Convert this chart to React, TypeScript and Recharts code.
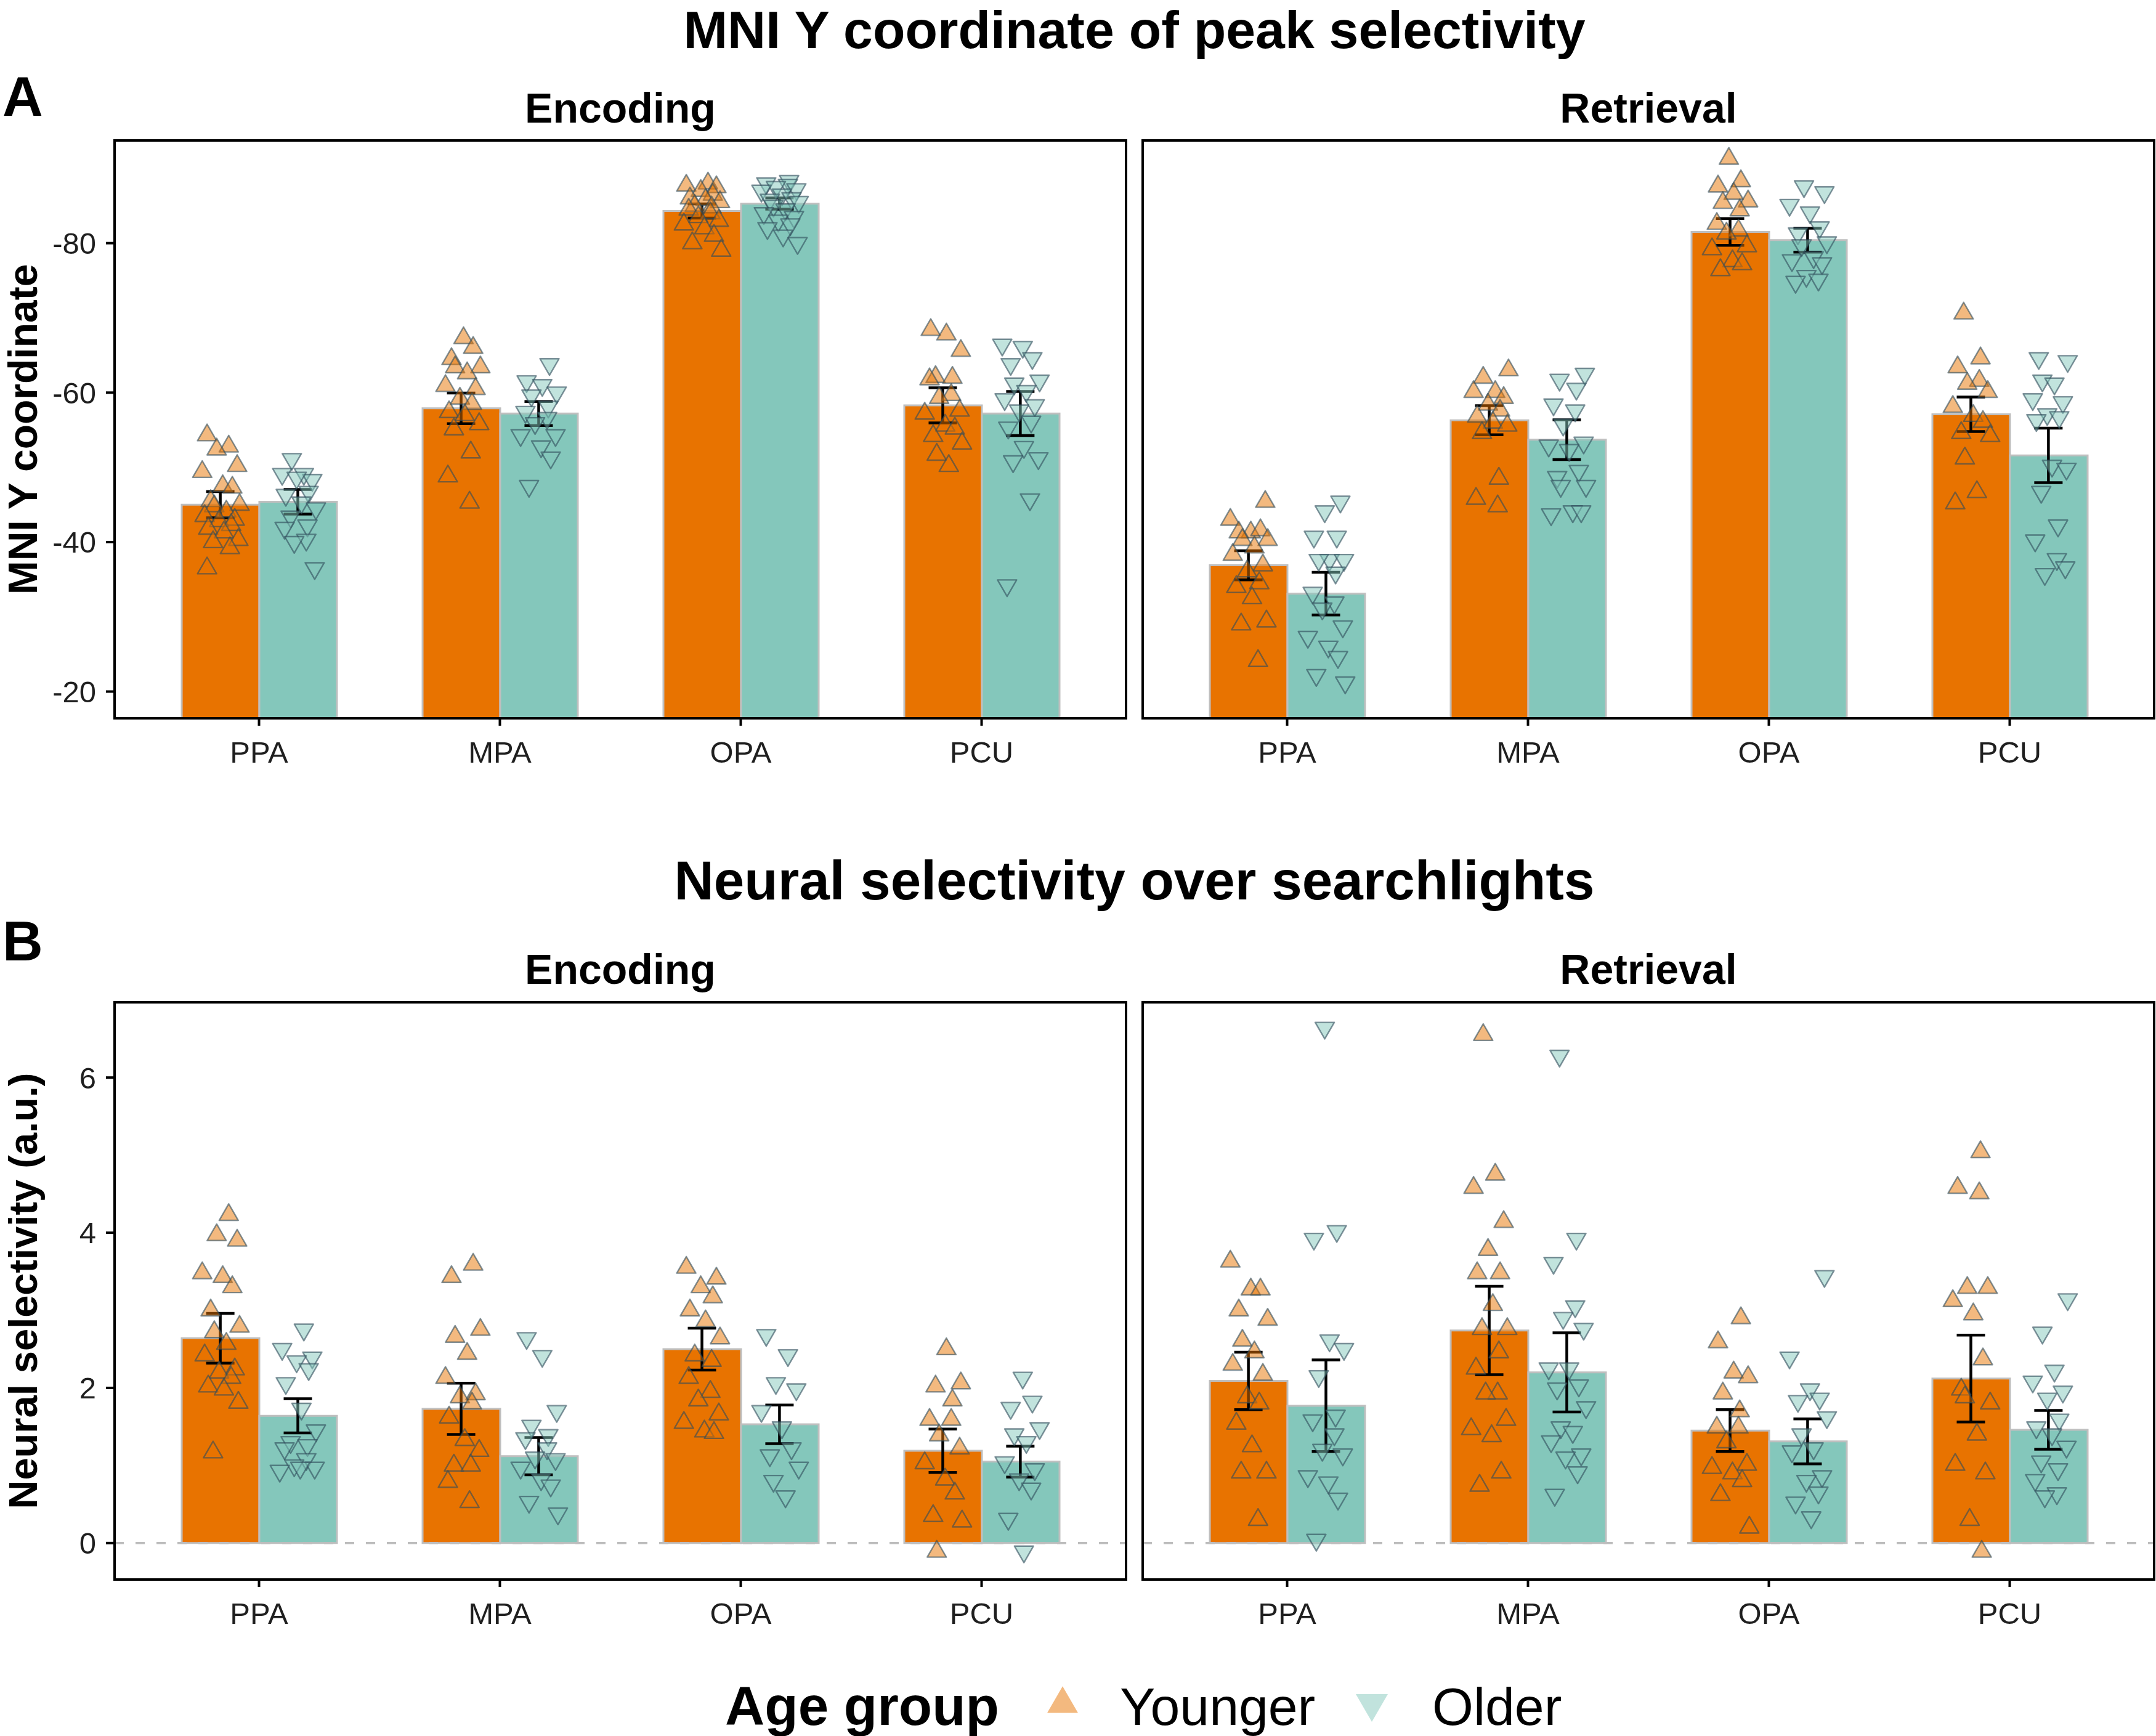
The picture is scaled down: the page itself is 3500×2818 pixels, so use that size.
import React from 'react';
import { ComposedChart, Bar, Scatter, XAxis, YAxis, ErrorBar, ReferenceLine } from 'recharts';

const FONT = '"Liberation Sans", Arial, Helvetica, sans-serif';

// ---------- data ----------
const REGIONS = ['PPA', 'MPA', 'OPA', 'PCU'];
const PHASES = ['Encoding', 'Retrieval'];
const GROUPS = ['Younger', 'Older'];

const MNI_TICKS = [-80, -60, -40, -20];
const SEL_TICKS = [0, 2, 4, 6];

// Panel A: MNI Y coordinate of peak selectivity (means and SE)
const MNI_ENC_YOUNG_MEAN = [-45.0, -57.9, -84.3, -58.3];
const MNI_ENC_YOUNG_SE = [1.75, 2.05, 0.95, 2.35];
const MNI_ENC_OLD_MEAN = [-45.4, -57.2, -85.3, -57.2];
const MNI_ENC_OLD_SE = [1.65, 1.6, 0.75, 2.95];
const MNI_RET_YOUNG_MEAN = [-36.9, -56.3, -81.5, -57.1];
const MNI_RET_YOUNG_SE = [1.95, 1.95, 1.8, 2.3];
const MNI_RET_OLD_MEAN = [-33.1, -53.7, -80.4, -51.6];
const MNI_RET_OLD_SE = [2.85, 2.65, 1.6, 3.65];

// Panel B: neural selectivity (means and SE)
const SEL_ENC_YOUNG_MEAN = [2.64, 1.73, 2.5, 1.19];
const SEL_ENC_YOUNG_SE = [0.32, 0.33, 0.27, 0.28];
const SEL_ENC_OLD_MEAN = [1.64, 1.12, 1.53, 1.05];
const SEL_ENC_OLD_SE = [0.22, 0.24, 0.25, 0.2];
const SEL_RET_YOUNG_MEAN = [2.09, 2.74, 1.45, 2.12];
const SEL_RET_YOUNG_SE = [0.37, 0.57, 0.27, 0.56];
const SEL_RET_OLD_MEAN = [1.77, 2.2, 1.31, 1.46];
const SEL_RET_OLD_SE = [0.59, 0.51, 0.29, 0.25];

// individual participants (per region: PPA, MPA, OPA, PCU)
const MNI_ENC_YOUNG_PTS = [
  [-54.3, -52.8, -52.4, -50.2, -49.4, -47.5, -47.3, -45.5, -45.0, -44.8, -44.1, -43.5, -43.0, -42.8, -42.3, -41.8, -41.3, -40.3, -40.0, -39.2, -36.5],
  [-67.3, -66.0, -64.5, -63.4, -63.4, -62.6, -60.9, -60.5, -59.2, -58.5, -57.4, -57.0, -55.8, -55.1, -52.0, -48.8, -45.3],
  [-88.0, -87.7, -87.5, -87.0, -86.5, -86.0, -85.8, -85.5, -85.0, -84.8, -84.5, -84.0, -83.5, -83.0, -82.5, -82.0, -81.0, -80.0, -79.0],
  [-68.4, -67.8, -65.6, -62.1, -62.0, -61.8, -59.7, -59.3, -57.6, -57.2, -55.6, -55.2, -54.2, -53.2, -51.7, -50.2],
];
const MNI_ENC_OLD_PTS = [
  [-51.1, -49.1, -49.1, -48.3, -48.6, -46.7, -46.3, -45.3, -44.5, -43.4, -42.2, -41.9, -40.3, -40.0, -36.5],
  [-63.8, -61.5, -61.0, -60.0, -59.6, -58.1, -57.4, -56.6, -55.9, -54.3, -54.3, -52.8, -51.3, -47.5],
  [-88.3, -88.0, -87.8, -87.5, -87.2, -87.0, -86.5, -86.0, -85.8, -85.5, -85.0, -84.5, -84.0, -83.5, -83.0, -82.5, -82.0, -81.0, -80.0],
  [-66.4, -66.1, -64.6, -63.8, -61.6, -61.2, -60.2, -59.1, -58.3, -57.6, -56.1, -55.3, -52.7, -51.2, -50.8, -45.7, -34.2],
];
const MNI_RET_YOUNG_PTS = [
  [-45.4, -43.0, -41.3, -41.6, -41.3, -40.3, -40.3, -39.3, -38.3, -36.9, -36.1, -34.5, -34.0, -32.5, -29.4, -29.0, -24.1],
  [-63.0, -62.0, -60.1, -60.1, -59.3, -58.4, -57.6, -56.8, -56.0, -55.6, -54.6, -48.5, -45.8, -44.8],
  [-91.3, -88.3, -87.6, -86.6, -85.6, -85.4, -84.4, -82.6, -81.7, -81.3, -79.6, -79.2, -77.6, -77.2, -76.4],
  [-70.6, -64.6, -63.4, -61.6, -61.2, -60.1, -58.1, -56.9, -56.1, -54.6, -54.2, -51.2, -46.7, -45.2],
];
const MNI_RET_OLD_PTS = [
  [-45.4, -44.1, -40.7, -40.7, -37.6, -37.6, -37.6, -35.9, -33.2, -31.9, -31.1, -28.7, -27.3, -26.0, -24.6, -22.2, -21.2],
  [-62.5, -61.7, -60.5, -58.4, -57.6, -55.7, -53.3, -52.9, -52.3, -49.5, -48.7, -47.5, -47.5, -44.1, -43.7, -44.1],
  [-87.6, -86.8, -85.1, -84.1, -82.1, -81.3, -80.1, -79.7, -78.1, -77.7, -77.3, -75.6, -75.1, -74.8],
  [-64.6, -64.2, -61.6, -61.2, -59.1, -58.7, -57.1, -56.7, -56.3, -50.2, -49.8, -46.7, -42.2, -40.2, -37.7, -35.7, -36.6],
];
const SEL_ENC_YOUNG_PTS = [
  [4.23, 3.97, 3.9, 3.48, 3.43, 3.3, 3.0, 2.79, 2.72, 2.57, 2.42, 2.24, 2.2, 2.13, 2.02, 1.98, 1.81, 1.17],
  [3.59, 3.43, 2.75, 2.66, 2.44, 2.13, 1.92, 1.88, 1.8, 1.62, 1.33, 1.19, 1.0, 1.0, 0.79, 0.53],
  [3.55, 3.41, 3.3, 3.17, 3.0, 2.86, 2.64, 2.42, 2.35, 2.13, 1.95, 1.84, 1.66, 1.55, 1.44, 1.42],
  [2.5, 2.06, 2.02, 1.84, 1.59, 1.59, 1.39, 1.22, 1.03, 0.82, 0.64, 0.35, 0.28, -0.11],
];
const SEL_ENC_OLD_PTS = [
  [2.75, 2.5, 2.39, 2.34, 2.24, 2.06, 1.73, 1.45, 1.3, 1.26, 1.22, 1.08, 1.0, 0.97, 0.93, 0.97],
  [2.64, 2.41, 1.7, 1.51, 1.39, 1.35, 1.22, 1.1, 1.08, 0.97, 0.82, 0.74, 0.53, 0.38],
  [2.68, 2.42, 2.06, 1.98, 1.7, 1.49, 1.22, 1.13, 0.97, 0.8, 0.6],
  [2.13, 1.82, 1.74, 1.48, 1.4, 1.3, 1.04, 0.95, 0.82, 0.7, 0.31, -0.11],
];
const SEL_RET_YOUNG_PTS = [
  [3.63, 3.27, 3.27, 3.0, 2.88, 2.61, 2.46, 2.3, 2.17, 1.88, 1.8, 1.54, 1.25, 0.91, 0.91, 0.3],
  [6.55, 4.75, 4.58, 4.14, 3.78, 3.48, 3.48, 3.07, 2.76, 2.76, 2.46, 2.25, 1.93, 1.93, 1.59, 1.47, 1.38, 0.91, 0.74],
  [2.9, 2.59, 2.2, 2.14, 1.93, 1.7, 1.49, 1.49, 1.3, 1.01, 0.97, 0.9, 0.8, 0.62, 0.2],
  [5.04, 4.58, 4.51, 3.29, 3.29, 3.12, 2.95, 2.37, 1.98, 1.8, 1.88, 1.4, 1.01, 0.9, 0.3, -0.11],
];
const SEL_RET_OLD_PTS = [
  [6.64, 4.02, 3.92, 2.61, 2.5, 2.15, 1.64, 1.58, 1.4, 1.2, 1.14, 0.86, 0.78, 0.57, 0.04],
  [6.28, 3.92, 3.61, 3.05, 2.9, 2.76, 2.25, 2.25, 2.03, 1.99, 1.75, 1.49, 1.43, 1.31, 1.14, 1.1, 0.91, 0.62],
  [3.44, 2.39, 1.98, 1.86, 1.83, 1.62, 1.4, 1.22, 1.18, 0.86, 0.8, 0.65, 0.52, 0.33],
  [3.14, 2.71, 2.22, 2.08, 1.95, 1.86, 1.59, 1.49, 1.4, 1.24, 1.05, 0.95, 0.81, 0.64, 0.6],
];

// ---------- style / layout ----------
const ORANGE = '#E87300';
const TEAL = '#84C7BB';
const BAR_EDGE = '#BFBFBF';
const PT_EDGE = '#2E4B5A';
const TEXT = '#1F1F1F';

const PANEL_W = 1642;
const COL_X = [186, 1855];
const ROW_Y = [228, 1627];
const PANEL_H = [938, 937];
const MNI_DOMAIN: [number, number] = [-93.74, -16.42];
const SEL_DOMAIN: [number, number] = [-0.47, 6.97];
const BAR_SIZE = 126;
const DODGE = 0.161; // half of dodged bar width, in category units
const JITTER = [-0.055, 0.035, -0.015, 0.07, -0.075, 0.01, 0.05, -0.04, 0.08, -0.025, 0.025, -0.065, 0.06, -0.005, 0.045, -0.05, 0.015, 0.075, -0.03, 0.04];
const X_AXIS_H = 110;
const TOP_M = 10;
const BORDER = 4;

function makePoints(pts: number[][], side: number, seed: number) {
  const out: { x: number; y: number }[] = [];
  pts.forEach((arr, i) =>
    arr.forEach((v, j) => {
      out.push({ x: i + 1 + side * DODGE + JITTER[(j + 5 * i + seed) % JITTER.length], y: v });
    })
  );
  return out;
}

function makeErr(mean: number[], se: number[], side: number) {
  return mean.map((m, i) => ({ x: i + 1 + side * DODGE, y: m, err: se[i] }));
}

function triPath(cx: number, cy: number, s: number, up: boolean) {
  const h = (s * Math.sqrt(3)) / 2;
  return up
    ? `M${cx},${cy - (2 * h) / 3} L${cx + s / 2},${cy + h / 3} L${cx - s / 2},${cy + h / 3} Z`
    : `M${cx},${cy + (2 * h) / 3} L${cx + s / 2},${cy - h / 3} L${cx - s / 2},${cy - h / 3} Z`;
}

const makeTri = (up: boolean, fill: string) => (props: any) => {
  const { cx, cy } = props;
  if (cx == null || cy == null || isNaN(cx) || isNaN(cy)) return <g />;
  return (
    <path
      d={triPath(cx, cy, 31, up)}
      fill={fill}
      fillOpacity={0.5}
      stroke={PT_EDGE}
      strokeOpacity={0.6}
      strokeWidth={2.4}
      strokeLinejoin="round"
    />
  );
};
const UpTri = makeTri(true, ORANGE);
const DownTri = makeTri(false, TEAL);
const NoShape = () => <g />;

type PanelProps = {
  col: number;
  row: number;
  youngMean: number[];
  youngSe: number[];
  oldMean: number[];
  oldSe: number[];
  youngPts: number[][];
  oldPts: number[][];
  domain: [number, number];
  ticks: number[];
  reversed: boolean;
  zeroLine: boolean;
};

function Panel(p: PanelProps) {
  const rows = REGIONS.map((r, i) => ({ region: r, young: p.youngMean[i], old: p.oldMean[i] }));
  const yPts = makePoints(p.youngPts, -1, p.col * 3 + p.row);
  const oPts = makePoints(p.oldPts, 1, p.col * 3 + p.row + 9);
  const yErr = makeErr(p.youngMean, p.youngSe, -1);
  const oErr = makeErr(p.oldMean, p.oldSe, 1);
  const isLeft = p.col === 0;
  const yAxisW = isLeft ? 186 : 0;
  const marginLeft = isLeft ? 0 : 10;
  const marginRight = isLeft ? 10 : 3;
  const width = marginLeft + yAxisW + PANEL_W + marginRight;
  const height = TOP_M + PANEL_H[p.row] + X_AXIS_H;
  const left = COL_X[p.col] - yAxisW - marginLeft;
  const top = ROW_Y[p.row] - TOP_M;
  const line = { stroke: '#000', strokeWidth: BORDER };
  return (
    <>
      <div style={{ position: 'absolute', left, top, width, height }}>
        <ComposedChart
          width={width}
          height={height}
          data={rows}
          margin={{ top: TOP_M, right: marginRight, bottom: 0, left: marginLeft }}
          barGap={0}
          style={{ fontFamily: FONT }}
        >
          {p.zeroLine && (
            <ReferenceLine
              xAxisId="cat"
              yAxisId="v"
              y={0}
              stroke="#BDBDBD"
              strokeWidth={3.5}
              strokeDasharray="15 19"
            />
          )}
          <Bar xAxisId="cat" yAxisId="v" dataKey="young" name={GROUPS[0]} fill={ORANGE} stroke={BAR_EDGE} strokeWidth={3} barSize={BAR_SIZE} isAnimationActive={false} />
          <Bar xAxisId="cat" yAxisId="v" dataKey="old" name={GROUPS[1]} fill={TEAL} stroke={BAR_EDGE} strokeWidth={3} barSize={BAR_SIZE} isAnimationActive={false} />
          <Scatter xAxisId="num" yAxisId="v" data={yPts} dataKey="y" shape={UpTri} isAnimationActive={false} />
          <Scatter xAxisId="num" yAxisId="v" data={oPts} dataKey="y" shape={DownTri} isAnimationActive={false} />
          <Scatter xAxisId="num" yAxisId="v" data={yErr} dataKey="y" shape={NoShape} isAnimationActive={false}>
            <ErrorBar dataKey="err" direction="y" width={23} stroke="#000" strokeWidth={4.5} />
          </Scatter>
          <Scatter xAxisId="num" yAxisId="v" data={oErr} dataKey="y" shape={NoShape} isAnimationActive={false}>
            <ErrorBar dataKey="err" direction="y" width={23} stroke="#000" strokeWidth={4.5} />
          </Scatter>
          <XAxis
            xAxisId="cat"
            dataKey="region"
            type="category"
            padding={{ left: 39, right: 39 }}
            height={X_AXIS_H}
            interval={0}
            tickSize={12}
            tickMargin={25}
            tick={{ fontSize: 49, fill: TEXT, fontFamily: FONT }}
            axisLine={line}
            tickLine={line}
          />
          <XAxis xAxisId="num" dataKey="x" type="number" domain={[0.4, 4.6]} allowDataOverflow hide />
          <YAxis
            yAxisId="v"
            type="number"
            domain={p.domain}
            allowDataOverflow
            reversed={p.reversed}
            ticks={p.ticks}
            interval={0}
            width={yAxisW}
            tick={isLeft ? { fontSize: 49, fill: TEXT, fontFamily: FONT } : false}
            tickSize={14}
            tickMargin={16}
            tickLine={isLeft ? line : false}
            axisLine={line}
          />
        </ComposedChart>
      </div>
      {/* panel border (theme element, like ggplot's panel.border) */}
      <div
        style={{
          position: 'absolute',
          left: COL_X[p.col] - BORDER / 2,
          top: ROW_Y[p.row] - BORDER / 2,
          width: PANEL_W + BORDER,
          height: PANEL_H[p.row] + BORDER,
          border: `${BORDER}px solid #000`,
          boxSizing: 'border-box',
          pointerEvents: 'none',
        }}
      />
    </>
  );
}

function Overlay() {
  const bold = { fontFamily: FONT, fontWeight: 700, fill: '#000' } as const;
  const plain = { fontFamily: FONT, fontWeight: 400, fill: '#000' } as const;
  const c0 = COL_X[0] + PANEL_W / 2;
  const c1 = COL_X[1] + PANEL_W / 2;
  const mid = (COL_X[0] + COL_X[1] + PANEL_W) / 2;
  return (
    <svg width={3500} height={2818} style={{ position: 'absolute', left: 0, top: 0 }}>
      <text x={mid} y={78} textAnchor="middle" fontSize={86} {...bold}>MNI Y coordinate of peak selectivity</text>
      <text x={4} y={188} fontSize={91} {...bold}>A</text>
      <text x={c0} y={199} textAnchor="middle" fontSize={68} {...bold}>{PHASES[0]}</text>
      <text x={c1} y={199} textAnchor="middle" fontSize={68} {...bold}>{PHASES[1]}</text>
      <text transform={`translate(60, ${ROW_Y[0] + PANEL_H[0] / 2}) rotate(-90)`} textAnchor="middle" fontSize={66} {...bold}>MNI Y coordinate</text>

      <text x={mid} y={1460} textAnchor="middle" fontSize={89} {...bold}>Neural selectivity over searchlights</text>
      <text x={4} y={1559} fontSize={91} {...bold}>B</text>
      <text x={c0} y={1597} textAnchor="middle" fontSize={68} {...bold}>{PHASES[0]}</text>
      <text x={c1} y={1597} textAnchor="middle" fontSize={68} {...bold}>{PHASES[1]}</text>
      <text transform={`translate(60, ${ROW_Y[1] + PANEL_H[1] / 2}) rotate(-90)`} textAnchor="middle" fontSize={65} {...bold}>Neural selectivity (a.u.)</text>

      <text x={1177} y={2800} fontSize={89} {...bold}>Age group</text>
      <path d={triPath(1725, 2766, 50, true)} fill={ORANGE} fillOpacity={0.5} />
      <text x={1818} y={2800} fontSize={86} {...plain}>{GROUPS[0]}</text>
      <path d={triPath(2227, 2765, 52, false)} fill={TEAL} fillOpacity={0.5} />
      <text x={2325} y={2800} fontSize={86} {...plain}>{GROUPS[1]}</text>
    </svg>
  );
}

export default function App() {
  return (
    <div style={{ position: 'absolute', left: 0, top: 0, width: 3500, height: 2818, background: '#fff', overflow: 'hidden', fontFamily: FONT }}>
      <Overlay />
      <Panel col={0} row={0} youngMean={MNI_ENC_YOUNG_MEAN} youngSe={MNI_ENC_YOUNG_SE} oldMean={MNI_ENC_OLD_MEAN} oldSe={MNI_ENC_OLD_SE} youngPts={MNI_ENC_YOUNG_PTS} oldPts={MNI_ENC_OLD_PTS} domain={MNI_DOMAIN} ticks={MNI_TICKS} reversed zeroLine={false} />
      <Panel col={1} row={0} youngMean={MNI_RET_YOUNG_MEAN} youngSe={MNI_RET_YOUNG_SE} oldMean={MNI_RET_OLD_MEAN} oldSe={MNI_RET_OLD_SE} youngPts={MNI_RET_YOUNG_PTS} oldPts={MNI_RET_OLD_PTS} domain={MNI_DOMAIN} ticks={MNI_TICKS} reversed zeroLine={false} />
      <Panel col={0} row={1} youngMean={SEL_ENC_YOUNG_MEAN} youngSe={SEL_ENC_YOUNG_SE} oldMean={SEL_ENC_OLD_MEAN} oldSe={SEL_ENC_OLD_SE} youngPts={SEL_ENC_YOUNG_PTS} oldPts={SEL_ENC_OLD_PTS} domain={SEL_DOMAIN} ticks={SEL_TICKS} reversed={false} zeroLine />
      <Panel col={1} row={1} youngMean={SEL_RET_YOUNG_MEAN} youngSe={SEL_RET_YOUNG_SE} oldMean={SEL_RET_OLD_MEAN} oldSe={SEL_RET_OLD_SE} youngPts={SEL_RET_YOUNG_PTS} oldPts={SEL_RET_OLD_PTS} domain={SEL_DOMAIN} ticks={SEL_TICKS} reversed={false} zeroLine />
    </div>
  );
}
